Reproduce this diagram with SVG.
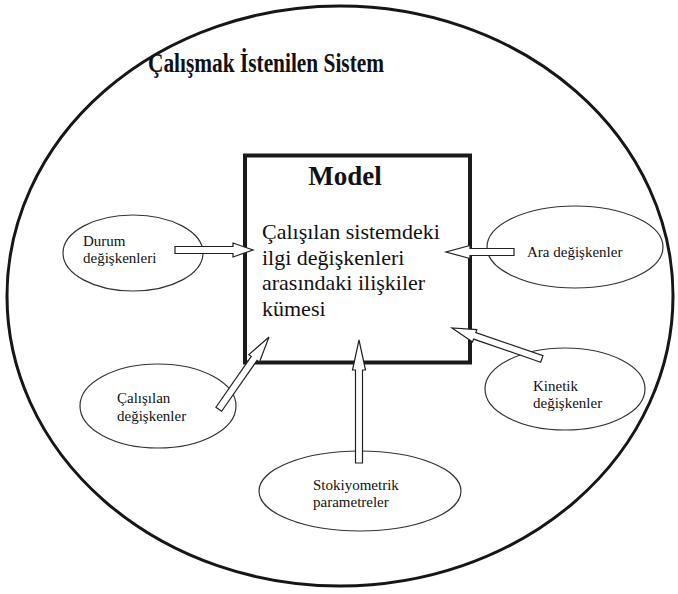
<svg xmlns="http://www.w3.org/2000/svg" width="678" height="594" viewBox="0 0 678 594">
<style>
.outer{fill:none;stroke:#161616;stroke-width:3}
.box{fill:#fff;stroke:#1a1a1a;stroke-width:4}
.ell{fill:#fff;stroke:#333;stroke-width:1.2}
.arr{fill:#fff;stroke:#222;stroke-width:1.2;stroke-linejoin:miter}
.t{font-family:"Liberation Serif","Times New Roman",serif;fill:#111}
.b{font-weight:bold}
.body{font-size:22px}
.sm{font-size:15px}
</style>
<rect width="678" height="594" fill="#fff"/>
<g id="system">
<ellipse class="outer" cx="340" cy="296" rx="333" ry="290"/>
<text class="t b" x="148" y="72" font-size="27" textLength="236" lengthAdjust="spacingAndGlyphs">Çalışmak İstenilen Sistem</text>
</g>
<g id="model">
<rect class="box" x="245" y="155.5" width="225" height="207"/>
<text class="t b" x="345" y="185" font-size="27" text-anchor="middle">Model</text>
<text class="t body" x="262" y="239">Çalışılan sistemdeki</text>
<text class="t body" x="262" y="264.5">ilgi değişkenleri</text>
<text class="t body" x="262" y="290">arasındaki ilişkiler</text>
<text class="t body" x="262" y="315.5">kümesi</text>
</g>
<g id="durum">
<ellipse class="ell" cx="133" cy="253" rx="70" ry="38"/>
<text class="t sm" x="83" y="246">Durum</text>
<text class="t sm" x="83" y="263">değişkenleri</text>
</g>
<g id="ara">
<ellipse class="ell" cx="575" cy="247" rx="88" ry="41"/>
<text class="t sm" x="527" y="257">Ara değişkenler</text>
</g>
<g id="kinetik">
<ellipse class="ell" cx="565" cy="389" rx="80" ry="41"/>
<text class="t sm" x="533" y="391">Kinetik</text>
<text class="t sm" x="533" y="408">değişkenler</text>
</g>
<g id="calisilan">
<ellipse class="ell" cx="158" cy="406" rx="78" ry="42"/>
<text class="t sm" x="117" y="403">Çalışılan</text>
<text class="t sm" x="117" y="421">değişkenler</text>
</g>
<g id="stokiyometrik">
<ellipse class="ell" cx="360" cy="491" rx="101" ry="40"/>
<text class="t sm" x="313" y="490">Stokiyometrik</text>
<text class="t sm" x="313" y="507">parametreler</text>
</g>
<g id="connectors">
<polygon class="arr" transform="translate(253,250)" points="-78,-3.5 -20,-3.5 -20,-7 0,0 -20,7 -20,3.5 -78,3.5"/>
<polygon class="arr" transform="translate(446,252) rotate(180)" points="-68,-3.5 -24,-3.5 -24,-6.5 0,0 -24,6.5 -24,3.5 -68,3.5"/>
<polygon class="arr" transform="translate(452,328) rotate(199)" points="-95,-3.5 -24,-3.5 -24,-6.5 0,0 -24,6.5 -24,3.5 -95,3.5"/>
<polygon class="arr" transform="translate(269,337) rotate(-55.2)" points="-88,-3.5 -26,-3.5 -26,-6.5 0,0 -26,6.5 -26,3.5 -88,3.5"/>
<polygon class="arr" transform="translate(359,340) rotate(-90)" points="-123,-3.5 -30,-3.5 -30,-6.5 0,0 -30,6.5 -30,3.5 -123,3.5"/>
</g>
</svg>
